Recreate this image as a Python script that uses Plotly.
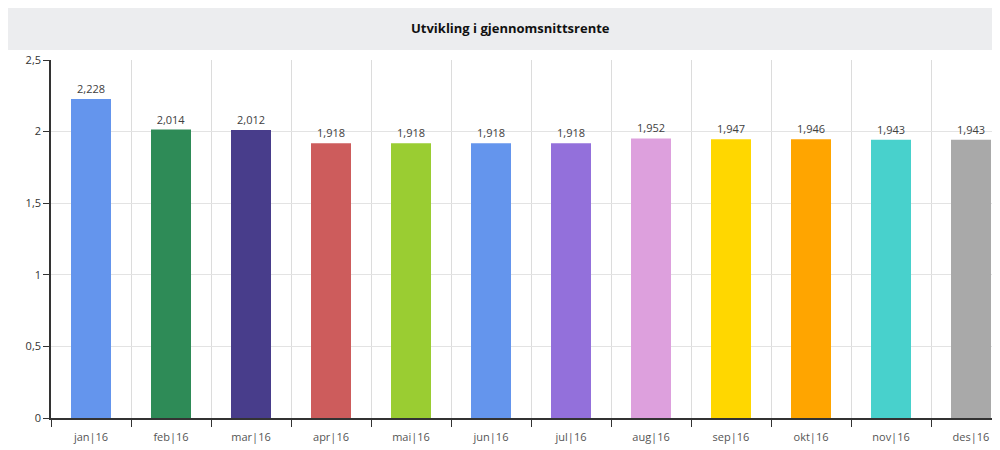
import plotly.graph_objects as go

months = ["jan|16", "feb|16", "mar|16", "apr|16", "mai|16", "jun|16",
          "jul|16", "aug|16", "sep|16", "okt|16", "nov|16", "des|16"]
rates = [2.228, 2.014, 2.012, 1.918, 1.918, 1.918, 1.918, 1.952, 1.947, 1.946, 1.943, 1.943]
colors = ["#6495ED", "#2E8B57", "#483D8B", "#CD5C5C", "#9ACD32", "#6495ED",
          "#9370DB", "#DDA0DD", "#FFD700", "#FFA500", "#48D1CC", "#A9A9A9"]
y_ticks = [0, 0.5, 1, 1.5, 2, 2.5]
y_tick_text = ["0", "0,5", "1", "1,5", "2", "2,5"]

fig = go.Figure(go.Bar(
    x=months, y=rates,
    marker=dict(color=colors, line=dict(width=0)),
    width=0.5,
    texttemplate="%{y:.3f}",
    textposition="outside",
    textfont=dict(family="Open Sans, Liberation Sans", size=11, color="#404040"),
    cliponaxis=False,
))

fig.update_layout(
    width=1000, height=450,
    margin=dict(l=43, r=8, t=52, b=40),
    plot_bgcolor="white", paper_bgcolor="white",
    separators=",.",
    showlegend=False,
    shapes=[dict(type="rect", xref="paper", yref="paper",
                 x0=-0.0464, x1=1.01, y0=1.0279, y1=1.1508,
                 fillcolor="#ECEDEF", line=dict(width=0), layer="below")],
    annotations=[dict(text="<b>Utvikling i gjennomsnittsrente</b>", xref="paper", yref="paper",
                      x=(510 - 51) / 949, y=1.0893, showarrow=False,
                      xanchor="center", yanchor="middle",
                      font=dict(family="Open Sans, Liberation Sans", size=13, color="#111111"))],
)

fig.update_xaxes(
    type="category", range=[-0.5, 11.3625],
    tickson="boundaries", ticks="outside", ticklen=7, tickcolor="#333333", tickwidth=1,
    ticklabelstandoff=8,
    showgrid=True, gridcolor="#DCDCDC", gridwidth=1,
    showline=True, linecolor="#333333", linewidth=1.5,
    tickfont=dict(family="Open Sans, Liberation Sans", size=11, color="#555555"),
)
fig.update_yaxes(
    range=[0, 2.5], tickvals=y_ticks, ticktext=y_tick_text,
    ticks="outside", ticklen=6, tickcolor="#333333",
    showgrid=True, gridcolor="#E3E3E3", gridwidth=1,
    showline=True, linecolor="#333333", linewidth=1.5,
    zeroline=False,
    tickfont=dict(family="Open Sans, Liberation Sans", size=11, color="#333333"),
)

fig.write_html("out.html")
